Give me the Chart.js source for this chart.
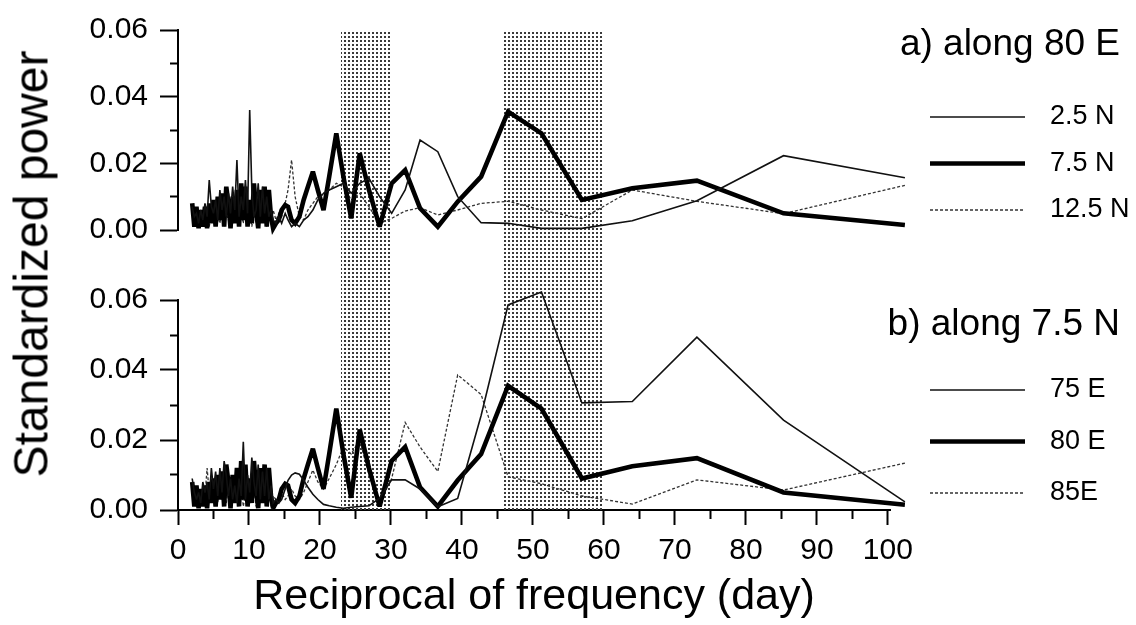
<!DOCTYPE html>
<html>
<head>
<meta charset="utf-8">
<script src="https://cdn.jsdelivr.net/npm/chart.js@4.4.1/dist/chart.umd.min.js"></script>
<style>
  body { margin: 0; background: #fff; }
  #wrap { position: relative; width: 1136px; height: 625px; overflow: hidden; font-family: "Liberation Sans", Arial, sans-serif; }
  #top-box { position: absolute; left: 0; top: 0; width: 1136px; height: 264px; }
  #bottom-box { position: absolute; left: 0; top: 264px; width: 1136px; height: 361px; }
  #y-title { position: absolute; left: 31px; top: 264px; transform: translate(-50%, -50%) rotate(-90deg); font-size: 48px; white-space: nowrap; color: #000; }
</style>
</head>
<body>
<div id="wrap">
  <div id="top-box"><canvas id="top-chart"></canvas></div>
  <div id="bottom-box"><canvas id="bottom-chart"></canvas></div>
  <div id="y-title">Standardized power</div>
</div>
<script>
// periods (day) of the spectral estimates, longest first
const periods = [
  102.4, 85.3, 73.1, 64.0, 56.9, 51.2, 46.5, 42.7, 39.4, 36.6, 34.1, 32.0, 30.1, 28.4, 26.9, 25.6,
  24.4, 23.3, 22.3, 21.3, 20.5, 19.7, 19.0, 18.3, 17.7, 17.1, 16.5, 16.0, 15.5, 15.1, 14.6, 14.2, 13.8,
  13.4, 13.1, 12.8, 12.5, 12.2, 11.9, 11.6, 11.3, 11.0, 10.7, 10.4, 10.1, 9.8, 9.5, 9.2, 8.9, 8.6, 8.3,
  8.0, 7.7, 7.4, 7.1, 6.8, 6.5, 6.2, 5.9, 5.6, 5.3, 5.0, 4.7, 4.4, 4.1, 3.8, 3.5, 3.2, 2.9, 2.6, 2.3, 2.0
];

// a) along 80 E
const power2_5N = [
  0.0157, 0.0223, 0.0088, 0.0028, 0.0005, 0.0005, 0.002, 0.0022, 0.010, 0.0235, 0.027, 0.012, 0.005, 0.010, 0.0155, 0.014,
  0.011, 0.014, 0.013, 0.012, 0.011, 0.009, 0.006, 0.004, 0.003, 0.001, 0.002, 0.001, 0.003, 0.005, 0.002, 0.004, 0.002,
  0.003, 0.006, 0.004, 0.010, 0.005, 0.013, 0.004, 0.014, 0.006, 0.004, 0.012, 0.036, 0.005, 0.015, 0.006, 0.010, 0.004, 0.021,
  0.006, 0.013, 0.005, 0.011, 0.004, 0.010, 0.006, 0.012, 0.003, 0.009, 0.005, 0.007, 0.015, 0.004, 0.008, 0.003, 0.006, 0.002, 0.005, 0.004, 0.007
];
const power7_5N = [
  0.0015, 0.005, 0.0148, 0.0125, 0.009, 0.029, 0.0355, 0.016, 0.0085, 0.001, 0.0065, 0.018, 0.014, 0.001, 0.012, 0.023,
  0.0035, 0.016, 0.029, 0.016, 0.006, 0.012, 0.0175, 0.013, 0.009, 0.004, 0.002, 0.003, 0.007, 0.0075, 0.006, 0.003, 0.002,
  0.0005, 0.004, 0.012, 0.001, 0.013, 0.002, 0.012, 0.0005, 0.006, 0.014, 0.002, 0.009, 0.001, 0.013, 0.003, 0.014, 0.001, 0.012,
  0.002, 0.010, 0.0005, 0.008, 0.013, 0.001, 0.011, 0.003, 0.010, 0.001, 0.009, 0.002, 0.008, 0.0005, 0.007, 0.001, 0.006, 0.0005, 0.007, 0.001, 0.008
];
const power12_5N = [
  0.0134, 0.0049, 0.0086, 0.012, 0.0034, 0.006, 0.0086, 0.008, 0.006, 0.0045, 0.0067, 0.0057, 0.0035, 0.002, 0.007, 0.011,
  0.009, 0.013, 0.014, 0.012, 0.011, 0.010, 0.008, 0.006, 0.003, 0.004, 0.010, 0.021, 0.012, 0.008, 0.004, 0.005, 0.003,
  0.006, 0.002, 0.005, 0.001, 0.007, 0.002, 0.004, 0.008, 0.002, 0.005, 0.001, 0.006, 0.003, 0.009, 0.002, 0.005, 0.010, 0.003,
  0.006, 0.002, 0.007, 0.003, 0.005, 0.001, 0.006, 0.002, 0.004, 0.008, 0.002, 0.005, 0.001, 0.004, 0.006, 0.002, 0.004, 0.001, 0.003, 0.005, 0.002
];

// b) along 7.5 N
const power75E = [
  0.0023, 0.0257, 0.0494, 0.031, 0.0306, 0.0623, 0.0586, 0.027, 0.0033, 0.0009, 0.006, 0.0086, 0.0086, 0.0034, 0.0012, 0.001,
  0.0008, 0.0005, 0.0008, 0.0012, 0.0016, 0.003, 0.0045, 0.0065, 0.0085, 0.0102, 0.0106, 0.010, 0.0085, 0.006, 0.003, 0.002, 0.003,
  0.002, 0.007, 0.003, 0.012, 0.004, 0.011, 0.003, 0.013, 0.004, 0.008, 0.015, 0.005, 0.010, 0.003, 0.0195, 0.004, 0.009, 0.002,
  0.007, 0.003, 0.009, 0.004, 0.010, 0.014, 0.005, 0.012, 0.004, 0.011, 0.006, 0.012, 0.003, 0.008, 0.005, 0.008, 0.002, 0.005, 0.003, 0.005, 0.009
];
const power80E = power7_5N; // same grid point (80 E, 7.5 N) in both panels
const power85E = [
  0.0134, 0.0057, 0.0086, 0.0017, 0.004, 0.0075, 0.0095, 0.033, 0.0386, 0.011, 0.018, 0.025, 0.009, 0.002, 0.010, 0.020,
  0.016, 0.018, 0.013, 0.009, 0.006, 0.008, 0.0114, 0.008, 0.005, 0.003, 0.004, 0.006, 0.004, 0.003, 0.005, 0.002, 0.003,
  0.004, 0.001, 0.006, 0.002, 0.004, 0.009, 0.002, 0.005, 0.001, 0.006, 0.003, 0.008, 0.002, 0.005, 0.001, 0.007, 0.003, 0.005,
  0.010, 0.002, 0.004, 0.007, 0.002, 0.005, 0.003, 0.008, 0.002, 0.006, 0.009, 0.003, 0.005, 0.012, 0.004, 0.006, 0.002, 0.004, 0.001, 0.003, 0.005
];

// shaded period bands (day)
const bandRanges = [[23, 30], [45.6, 60]];

const FONT = '"Liberation Sans", Arial, sans-serif';
Chart.defaults.font.family = FONT;
Chart.defaults.color = "#000";

// line styles
const thin = { borderColor: "#111", borderWidth: 1.6 };
const thick = { borderColor: "#000", borderWidth: 4.6 };
const dotted = { borderColor: "#333", borderWidth: 1.3, borderDash: [3, 2] };

function toPoints(values) {
  return periods.map((p, i) => ({ x: p, y: values[i] }));
}

function makeDataset(label, values, style) {
  return Object.assign({ label, data: toPoints(values), pointRadius: 0, tension: 0, fill: false, clip: false }, style);
}

// stippled fill for the bands
function stipple(ctx) {
  const c = document.createElement("canvas");
  c.width = 4;
  c.height = 4;
  const g = c.getContext("2d");
  g.fillStyle = "#3a3a3a";
  g.fillRect(0, 0, 2, 2);
  return ctx.createPattern(c, "repeat");
}

// bands, panel label and legend
const decor = {
  id: "decor",
  beforeDatasetsDraw(chart, args, opts) {
    const { ctx, chartArea, scales } = chart;
    ctx.save();
    ctx.fillStyle = stipple(ctx);
    const top = opts.bandsUp ? 0 : chartArea.top;
    const bottom = opts.bandsUp ? chartArea.bottom : chart.height;
    bandRanges.forEach(([a, b]) => {
      const x1 = Math.round(scales.x.getPixelForValue(a));
      const x2 = Math.round(scales.x.getPixelForValue(b));
      ctx.fillRect(x1, top, x2 - x1, bottom - top);
    });
    ctx.restore();
    ctx.miterLimit = 3;
  },
  afterDraw(chart, args, opts) {
    const ctx = chart.ctx;
    ctx.save();
    ctx.fillStyle = "#000";
    ctx.textBaseline = "middle";
    ctx.font = `37px ${FONT}`;
    ctx.textAlign = "right";
    ctx.fillText(opts.title, 1120, opts.titleY);
    ctx.font = `27px ${FONT}`;
    ctx.textAlign = "left";
    chart.data.datasets.forEach((ds, i) => {
      const y = opts.rowY + i * opts.rowGap;
      ctx.strokeStyle = ds.borderColor;
      ctx.lineWidth = ds.borderWidth;
      ctx.setLineDash(ds.borderDash || []);
      ctx.beginPath();
      ctx.moveTo(930, y);
      ctx.lineTo(1025, y);
      ctx.stroke();
      ctx.fillText(ds.label, 1050, y);
    });
    ctx.restore();
  }
};

function xScale(show) {
  return {
    type: "linear",
    min: 0,
    max: 100.3,
    display: show,
    border: { color: "#000", width: 2 },
    grid: {
      drawOnChartArea: false,
      tickLength: 15,
      tickColor: "#000",
      tickWidth: 2,
      tickBorderDash: (c) => (c.tick && Math.round(c.tick.value) % 10 !== 0 ? [8, 20] : [])
    },
    ticks: {
      stepSize: 5,
      includeBounds: false,
      autoSkip: false,
      maxRotation: 0,
      padding: 8,
      font: { size: 30 },
      callback: (v) => (Math.round(v) % 10 === 0 ? String(Math.round(v)) : "")
    },
    title: {
      display: show,
      text: "Reciprocal of frequency (day)",
      font: { size: 43 },
      padding: { top: 0, bottom: 2 }
    },
    afterFit: (s) => { if (show) s.height = 115; }
  };
}

function yScale() {
  return {
    min: 0,
    max: 0.06,
    border: { color: "#000", width: 2 },
    grid: {
      drawOnChartArea: false,
      tickLength: 18,
      tickColor: "#000",
      tickWidth: 2,
      tickBorderDash: (c) => (c.tick && Math.round(c.tick.value * 100) % 2 !== 0 ? [0, 10, 8, 0] : [])
    },
    ticks: {
      stepSize: 0.01,
      autoSkip: false,
      padding: 12,
      font: { size: 30 },
      callback: (v) => (Math.round(v * 100) % 2 === 0 ? v.toFixed(2) : "")
    },
    afterFit: (s) => { s.width = 178; }
  };
}

function panelOptions(showX, padding, decorOpts) {
  return {
    responsive: true,
    maintainAspectRatio: false,
    animation: false,
    layout: { padding },
    plugins: { legend: { display: false }, tooltip: { enabled: false }, decor: decorOpts },
    scales: { x: xScale(showX), y: yScale() }
  };
}

new Chart(document.getElementById("top-chart"), {
  type: "line",
  data: {
    datasets: [
      makeDataset("2.5 N", power2_5N, thin),
      makeDataset("7.5 N", power7_5N, thick),
      makeDataset("12.5 N", power12_5N, dotted)
    ]
  },
  options: panelOptions(false, { top: 20, bottom: 34, left: 0, right: 246 },
    { title: "a) along 80 E", titleY: 45, rowY: 117, rowGap: 46.5, bandsUp: false }),
  plugins: [decor]
});

new Chart(document.getElementById("bottom-chart"), {
  type: "line",
  data: {
    datasets: [
      makeDataset("75 E", power75E, thin),
      makeDataset("80 E", power80E, thick),
      makeDataset("85E", power85E, dotted)
    ]
  },
  options: panelOptions(true, { top: 36, bottom: 0, left: 0, right: 246 },
    { title: "b) along 7.5 N", titleY: 61, rowY: 126, rowGap: 51.5, bandsUp: true }),
  plugins: [decor]
});
</script>
</body>
</html>
